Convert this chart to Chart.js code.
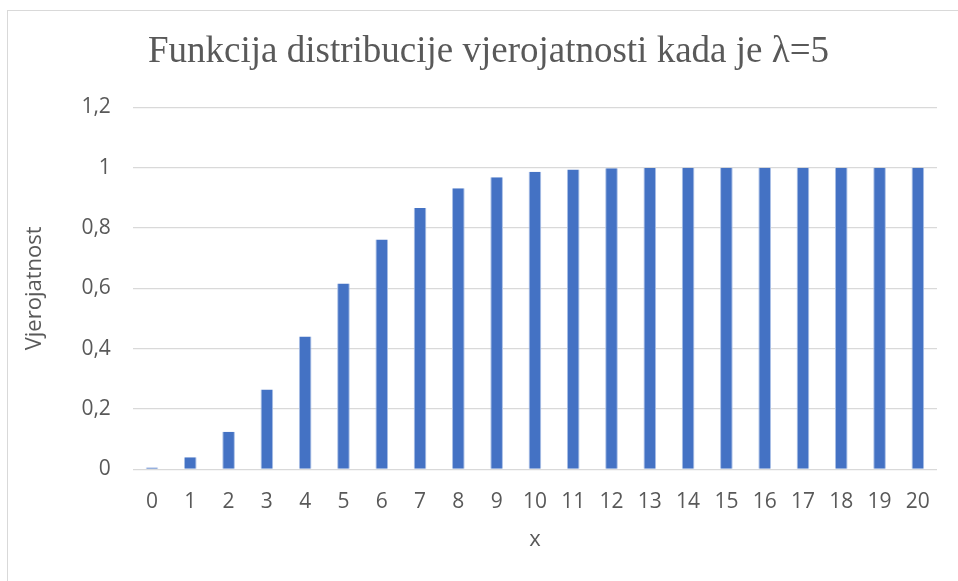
<!DOCTYPE html>
<html>
<head>
<meta charset="utf-8">
<script src="https://cdn.jsdelivr.net/npm/chart.js@4"></script>
<style>
  body { margin: 0; background: #fff; }
  #frame { position: absolute; left: 7px; top: 10px; width: 970px; height: 590px; border: 1px solid #d9d9d9; }
  #c { position: absolute; left: 0; top: 0; }
</style>
</head>
<body>
<div id="frame"></div>
<canvas id="c" width="958" height="581"></canvas>
<script>
var categories = ['0','1','2','3','4','5','6','7','8','9','10','11','12','13','14','15','16','17','18','19','20'];
var values = [0.0067, 0.0404, 0.1247, 0.2650, 0.4405, 0.6160, 0.7622, 0.8666, 0.9319, 0.9682,
              0.9863, 0.9945, 0.9980, 0.9993, 0.9998, 0.9999, 1.0, 1.0, 1.0, 1.0, 1.0];
var yTicks = [0, 0.2, 0.4, 0.6, 0.8, 1, 1.2];

var textColor = '#595959';

// nudge the title a bit to the right, like in the original
var titleShift = {
    id: 'titleShift',
    afterLayout: function(chart) {
        if (chart.titleBlock) {
            chart.titleBlock.left += 11;
            chart.titleBlock.right += 11;
        }
    }
};

var ctx = document.getElementById('c').getContext('2d');
var chart = new Chart(ctx, {
    type: 'bar',
    data: {
        labels: categories,
        datasets: [{
            label: 'Vjerojatnost',
            data: values,
            backgroundColor: '#4472C4',
            borderColor: '#a9bfe6',
            borderWidth: { left: 1, right: 1, top: 0, bottom: 0 },
            barPercentage: 0.66,
            categoryPercentage: 0.5
        }]
    },
    options: {
        responsive: false,
        animation: false,
        layout: { padding: { left: 18, right: 21, top: 30, bottom: 24 } },
        plugins: {
            legend: { display: false },
            tooltip: { enabled: false },
            title: {
                display: true,
                text: 'Funkcija distribucije vjerojatnosti kada je λ=5',
                color: textColor,
                font: { family: 'Liberation Serif', size: 37, weight: 'normal' },
                padding: { top: 0, bottom: 33 }
            }
        },
        scales: {
            x: {
                grid: { display: false },
                border: { display: false },
                ticks: {
                    color: textColor,
                    font: { family: 'Open Sans', size: 21 },
                    maxRotation: 0,
                    padding: 12
                },
                title: {
                    display: true,
                    text: 'x',
                    color: textColor,
                    font: { family: 'Open Sans', size: 22 },
                    padding: { top: 0 }
                }
            },
            y: {
                min: 0,
                max: 1.2,
                afterBuildTicks: function(axis) {
                    axis.ticks = yTicks.map(function(v) { return { value: v }; });
                },
                grid: { color: '#d9d9d9', lineWidth: 1.3, drawTicks: false },
                border: { display: false },
                ticks: {
                    color: textColor,
                    font: { family: 'Open Sans', size: 21 },
                    padding: 22,
                    callback: function(v) { return String(Math.round(v * 10) / 10).replace('.', ','); }
                },
                title: {
                    display: true,
                    text: 'Vjerojatnost',
                    color: textColor,
                    font: { family: 'Open Sans', size: 22 },
                    padding: { bottom: 11 }
                }
            }
        }
    },
    plugins: [titleShift]
});
</script>
</body>
</html>
